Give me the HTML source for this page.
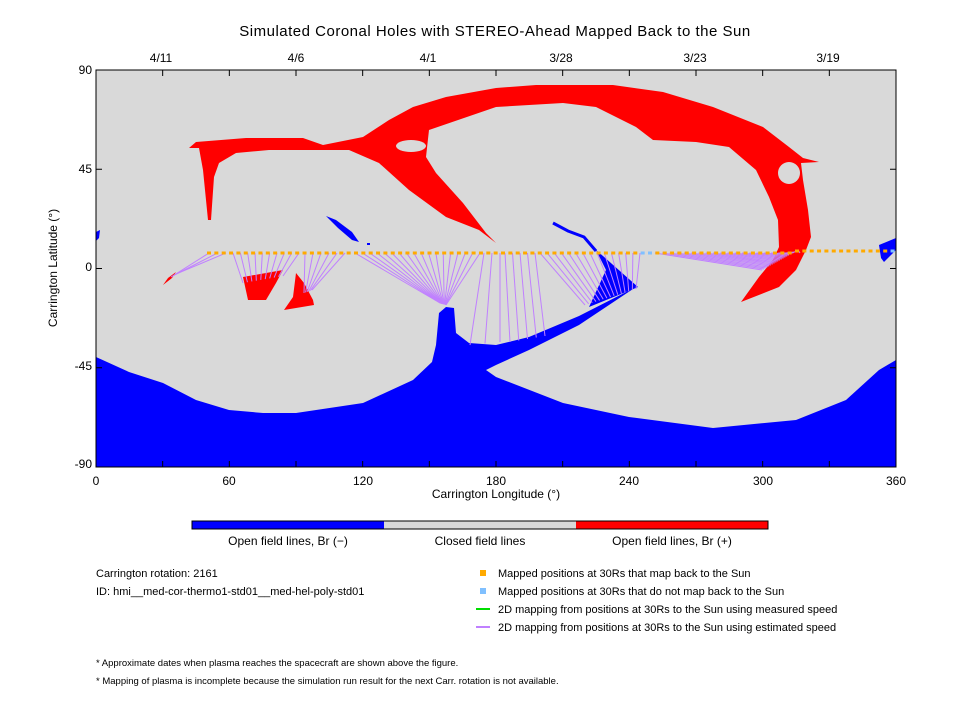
<!DOCTYPE html>
<html><head><meta charset="utf-8"><style>
body{margin:0;background:#fff;}
svg text{font-family:"Liberation Sans",sans-serif;fill:#000;}
</style></head><body>
<svg id="s" width="960" height="720" xmlns="http://www.w3.org/2000/svg">
<rect width="960" height="720" fill="#fff"/>
<text x="495" y="36" font-size="15" text-anchor="middle" letter-spacing="0.5">Simulated Coronal Holes with STEREO-Ahead Mapped Back to the Sun</text>
<rect x="96" y="70" width="800" height="397" fill="#d9d9d9"/>
<path fill="#0000ff" d="M96,467 L96,357 L129,372 L163,383 L196,400 L229,410 L263,413 L296,413 L363,403 L413,380 L432,362 L436,345 L439,313 L446,307 L454,308 L456,333 L469,343 L496,345 L529,337 L579,316 L636,287 L579,325 L529,350 L496,365 L486,370 L496,377 L563,403 L629,417 L713,428 L796,420 L846,400 L879,370 L896,360 L896,467 Z"/>
<path fill="#0000ff" d="M596,250 L603,256 L638,287 L589,307 L606,270 Z"/>
<path fill="none" stroke="#0000ff" stroke-width="3" d="M553,223 L568,231 L584,237 L596,251"/>
<path fill="#0000ff" d="M879,245 L896,238 L896,250 L884,262 L881,258 Z"/>
<path fill="#0000ff" d="M96,232 L100,230 L99,238 L96,241 Z"/>
<path fill="#0000ff" d="M326,216 L336,220 L352,232 L359,242 L352,240 L338,228 Z"/>
<rect x="367" y="243" width="3" height="2" fill="#0000ff"/>
<path fill="#ff0000" d="M189,148 L196,142 L246,138 L303,138 L323,145 L363,137 L389,120 L413,107 L446,97 L496,88 L536,85 L613,85 L663,92 L713,107 L763,127 L789,147 L803,158 L819,162 L801,163 L803,180 L808,210 L811,237 L806,250 L796,270 L779,287 L741,302 L759,277 L773,260 L779,247 L778,220 L769,197 L756,170 L729,147 L696,142 L653,140 L636,127 L596,107 L563,103 L496,107 L429,130 L426,157 L436,173 L463,203 L486,233 L496,243 L479,230 L446,217 L409,190 L379,163 L349,150 L313,150 L269,150 L236,153 L219,163 L214,177 L211,220 L208,220 L203,170 L199,148 Z"/>
<ellipse cx="411" cy="146" rx="15" ry="6" fill="#d9d9d9"/>
<circle cx="789" cy="173" r="11" fill="#d9d9d9"/>
<path fill="#ff0000" d="M163,285 L168,278 L176,272 L172,278 Z"/>
<path fill="#ff0000" d="M243,277 L283,270 L276,283 L266,300 L248,300 Z"/>
<path fill="#ff0000" d="M296,273 L304,283 L313,300 L314,305 L284,310 L293,297 Z"/>
<g id="lines" stroke="#c080ff" stroke-width="1" fill="none"></g>
<g id="dots"></g>
<rect x="96" y="70" width="800" height="397" fill="none" stroke="#000" stroke-width="1"/>
<g id="ticks" stroke="#000" stroke-width="1"></g>
<g font-size="12">
<text x="161" y="62" text-anchor="middle">4/11</text>
<text x="296" y="62" text-anchor="middle">4/6</text>
<text x="428" y="62" text-anchor="middle">4/1</text>
<text x="561" y="62" text-anchor="middle">3/28</text>
<text x="695" y="62" text-anchor="middle">3/23</text>
<text x="828" y="62" text-anchor="middle">3/19</text>
<text x="92" y="74" text-anchor="end">90</text>
<text x="92" y="173" text-anchor="end">45</text>
<text x="92" y="271" text-anchor="end">0</text>
<text x="92" y="370" text-anchor="end">-45</text>
<text x="92" y="468" text-anchor="end">-90</text>
<text x="96" y="485" text-anchor="middle">0</text>
<text x="229" y="485" text-anchor="middle">60</text>
<text x="363" y="485" text-anchor="middle">120</text>
<text x="496" y="485" text-anchor="middle">180</text>
<text x="629" y="485" text-anchor="middle">240</text>
<text x="763" y="485" text-anchor="middle">300</text>
<text x="896" y="485" text-anchor="middle">360</text>
<text x="496" y="498" text-anchor="middle">Carrington Longitude (°)</text>
<text x="57" y="268" text-anchor="middle" transform="rotate(-90 57 268)">Carrington Latitude (°)</text>
</g>
<rect x="192" y="521" width="192" height="8" fill="#0000ff"/>
<rect x="384" y="521" width="192" height="8" fill="#d9d9d9"/>
<rect x="576" y="521" width="192" height="8" fill="#ff0000"/>
<rect x="192" y="521" width="576" height="8" fill="none" stroke="#000"/>
<g font-size="12">
<text x="288" y="545" text-anchor="middle">Open field lines, Br (−)</text>
<text x="480" y="545" text-anchor="middle">Closed field lines</text>
<text x="672" y="545" text-anchor="middle">Open field lines, Br (+)</text>
<text x="96" y="577" font-size="11">Carrington rotation: 2161</text>
<text x="96" y="595" font-size="11">ID: hmi__med-cor-thermo1-std01__med-hel-poly-std01</text>
<rect x="480" y="570" width="6" height="6" fill="#ffaa00"/>
<rect x="480" y="588" width="6" height="6" fill="#80c0ff"/>
<line x1="476" y1="609" x2="490" y2="609" stroke="#00dd00" stroke-width="2"/>
<line x1="476" y1="627" x2="490" y2="627" stroke="#c080ff" stroke-width="2"/>
<text x="498" y="577" font-size="11">Mapped positions at 30Rs that map back to the Sun</text>
<text x="498" y="595" font-size="11">Mapped positions at 30Rs that do not map back to the Sun</text>
<text x="498" y="613" font-size="11">2D mapping from positions at 30Rs to the Sun using measured speed</text>
<text x="498" y="631" font-size="11">2D mapping from positions at 30Rs to the Sun using estimated speed</text>
<text x="96" y="666" font-size="9.5">* Approximate dates when plasma reaches the spacecraft are shown above the figure.</text>
<text x="96" y="684" font-size="9.5">* Mapping of plasma is incomplete because the simulation run result for the next Carr. rotation is not available.</text>
</g>
</svg>
<script>
var NS="http://www.w3.org/2000/svg";
function el(p,t,a){var e=document.createElementNS(NS,t);for(var k in a)e.setAttribute(k,a[k]);p.appendChild(e);return e;}
var L=document.getElementById("lines"),D=document.getElementById("dots"),T=document.getElementById("ticks");
var groups=[[209,226,171,277,176,274],[233,299,243,283,283,276],[305,345,304,293,312,290],[355,480,440,303,446,305],[484,500,470,345,500,342],[505,535,510,342,545,336],[540,640,585,305,636,289],[655,800,762,270,798,250]];
var dy=253;
groups.forEach(function(g){var n=Math.round((g[1]-g[0])/7.3)+1;for(var i=0;i<n;i++){var f=n>1?i/(n-1):0;el(L,"line",{x1:g[0]+(g[1]-g[0])*f,y1:dy,x2:g[2]+(g[4]-g[2])*f,y2:g[3]+(g[5]-g[3])*f});}});
for(var x=209;x<=893;x+=7.35){var c=(x>636&&x<652)||x>890?"#80c0ff":"#ffaa00";var yy=x>790?251:253;el(D,"rect",{x:x-2,y:yy-1.5,width:4,height:3,fill:c});}
for(var i=0;i<=12;i++){var x=96+i*800/12;el(T,"line",{x1:x,y1:467,x2:x,y2:461});el(T,"line",{x1:x,y1:70,x2:x,y2:76});}
for(var j=0;j<=4;j++){var y=70+j*397/4;el(T,"line",{x1:96,y1:y,x2:102,y2:y});el(T,"line",{x1:896,y1:y,x2:890,y2:y});}
</script>
</body></html>
